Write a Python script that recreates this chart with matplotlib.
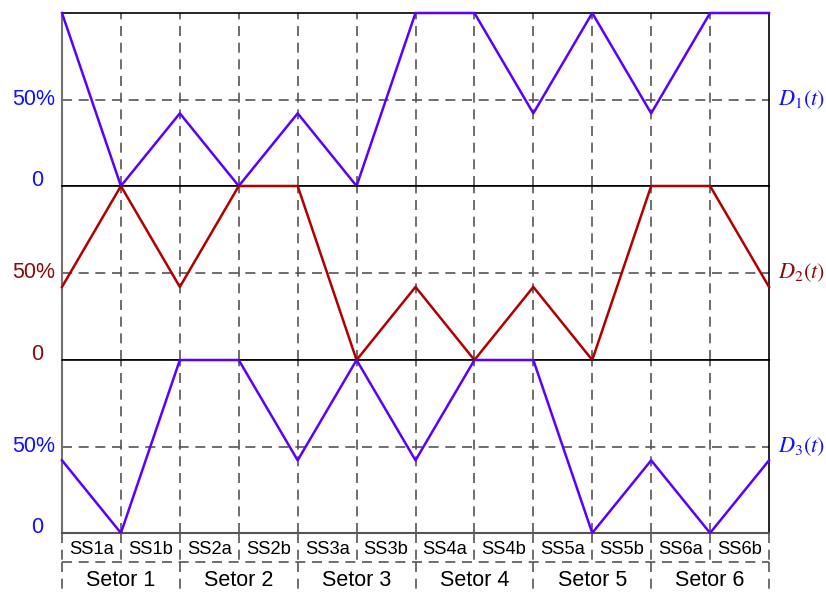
import matplotlib
matplotlib.use("Agg")
import matplotlib.pyplot as plt
from matplotlib.transforms import blended_transform_factory
from matplotlib.lines import Line2D

plt.rcParams["font.family"] = ["Liberation Sans", "DejaVu Sans"]
plt.rcParams["mathtext.fontset"] = "stix"

# Sub-sector boundaries (12 sub-sectors, 6 sectors)
x = list(range(13))
subsectors = ["SS1a", "SS1b", "SS2a", "SS2b", "SS3a", "SS3b",
              "SS4a", "SS4b", "SS5a", "SS5b", "SS6a", "SS6b"]
sectors = ["Setor 1", "Setor 2", "Setor 3", "Setor 4", "Setor 5", "Setor 6"]

# Duty cycles at each sub-sector boundary (fraction of 100%)
d1 = [1.0, 0.0, 0.42, 0.0, 0.42, 0.0, 1.0, 1.0, 0.42, 1.0, 0.42, 1.0, 1.0]
d2 = [0.42, 1.0, 0.42, 1.0, 1.0, 0.0, 0.42, 0.0, 0.42, 0.0, 1.0, 1.0, 0.42]
d3 = [0.42, 0.0, 1.0, 1.0, 0.42, 1.0, 0.42, 1.0, 1.0, 0.0, 0.42, 0.0, 0.42]

ytick_vals = [0.0, 0.5]
ytick_text = ["0", "50%"]

blue_line = "#5a00ff"
blue_text = "#1010ff"
red_line = "#b00000"
red_text = "#8b0a0a"
grid_col = "#555555"
dash = (0, (6, 4))

W, H = 826, 595
fig = plt.figure(figsize=(W / 100, H / 100), dpi=100)

left = 62 / W
width = (769 - 62) / W
panels = [
    (d1, blue_line, blue_text, r"$D_1(t)$", 13, 186),
    (d2, red_line, red_text, r"$D_2(t)$", 186, 360),
    (d3, blue_line, blue_text, r"$D_3(t)$", 360, 533),
]

axes = []
for i, (d, lc, tc, name, ptop, pbot) in enumerate(panels):
    ax = fig.add_axes([left, 1 - pbot / H, width, (pbot - ptop) / H])
    axes.append(ax)
    ax.set_xlim(0, 12)
    ax.set_ylim(0, 1)
    ax.set_xticks([])
    ax.set_yticks([])
    for s in ("top", "bottom", "right"):
        ax.spines[s].set_color("black")
        ax.spines[s].set_linewidth(1.2)
    ax.spines["left"].set_color("#707070")
    ax.spines["left"].set_linewidth(1.5)
    if i == 2:
        ax.spines["bottom"].set_color("#555555")
        ax.spines["bottom"].set_linewidth(1.5)
    # grid
    for xv in x[1:-1]:
        ax.axvline(xv, color=grid_col, lw=1.2, ls=dash, zorder=1)
    ax.axhline(0.5, color=grid_col, lw=1.2, ls=dash, zorder=1)
    # duty cycle curve
    ax.plot(x, d, color=lc, lw=1.8, zorder=3, clip_on=False)
    # y labels
    ytr = ax.get_yaxis_transform()
    for v, t in zip(ytick_vals, ytick_text):
        if t == "0":
            ax.text(-0.027, v, t, transform=ytr, ha="right", va="baseline",
                    color=tc, fontsize=15.5)
        else:
            ax.text(-0.01, v, t, transform=ytr, ha="right", va="center",
                    color=tc, fontsize=15.5)
    ax.text(1.013, 0.5, name, transform=ax.transAxes, ha="left",
            va="center", color=tc, fontsize=16)

# label rows below the plot
axb = axes[-1]
tr = blended_transform_factory(axb.transData, fig.transFigure)
y_top = 1 - 533 / H
y_mid = 1 - 562 / H
y_bot = 0.0
fig.add_artist(Line2D([0, 12], [y_mid, y_mid], transform=tr, color=grid_col,
                      lw=1.2, ls=dash))
for xv in x:
    fig.add_artist(Line2D([xv, xv], [y_top, y_mid], transform=tr,
                          color=grid_col, lw=1.2, ls=dash))
for xv in x[::2]:
    fig.add_artist(Line2D([xv, xv], [y_mid, y_bot], transform=tr,
                          color=grid_col, lw=1.2, ls=dash))
for k, lab in enumerate(subsectors):
    fig.text(k + 0.5, 1 - 549.5 / H, lab, transform=tr, ha="center",
             va="center", fontsize=13.2, color="black")
for k, lab in enumerate(sectors):
    fig.text(2 * k + 1, 1 - 580 / H, lab, transform=tr, ha="center",
             va="center", fontsize=15.5, color="black")

fig.savefig("out.png", dpi=100)
